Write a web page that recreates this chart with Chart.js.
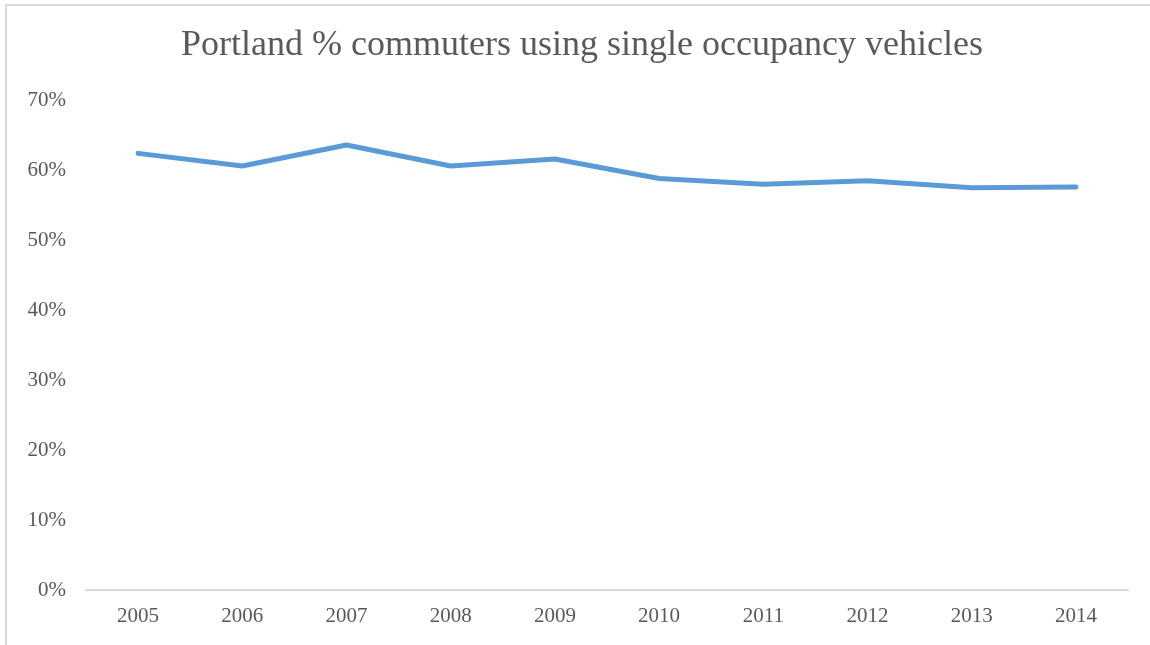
<!DOCTYPE html>
<html>
<head>
<meta charset="utf-8">
<script src="https://cdn.jsdelivr.net/npm/chart.js@4"></script>
<style>
  html, body { margin: 0; padding: 0; background: #fff; overflow: hidden; }
  #frame {
    position: absolute; left: 5px; top: 4px; width: 1200px; height: 700px;
    border-left: 2px solid #d9d9d9; border-top: 2px solid #d9d9d9;
  }
  #wrap { position: absolute; left: 0; top: 0; width: 1150px; height: 645px; }
</style>
</head>
<body>
<div id="frame"></div>
<div id="wrap"><canvas id="chart"></canvas></div>
<script>
// chart data
const years = ['2005', '2006', '2007', '2008', '2009', '2010', '2011', '2012', '2013', '2014'];
const singleOccupancy = [62.4, 60.6, 63.6, 60.6, 61.6, 58.8, 58.0, 58.5, 57.5, 57.6];
const yTicks = [0, 10, 20, 30, 40, 50, 60, 70];

const textGray = '#595959';
const serif = "'Liberation Serif', 'DejaVu Serif', serif";

new Chart(document.getElementById('chart'), {
  type: 'line',
  data: {
    labels: years,
    datasets: [{
      label: 'Single occupancy',
      data: singleOccupancy,
      borderColor: '#5b9bd5',
      borderWidth: 5,
      borderCapStyle: 'round',
      borderJoinStyle: 'round',
      pointRadius: 0,
      tension: 0,
      fill: false
    }]
  },
  options: {
    responsive: true,
    maintainAspectRatio: false,
    animation: false,
    layout: { padding: { left: 0, right: 22, top: 0, bottom: 0 } },
    plugins: {
      legend: { display: false },
      tooltip: { enabled: false },
      title: {
        display: true,
        // leading spaces push the centred title a little to the right
        text: '    Portland % commuters using single occupancy vehicles',
        color: textGray,
        font: { family: serif, size: 36, weight: 'normal', lineHeight: 1.2 },
        padding: { top: 24, bottom: 33 }
      }
    },
    scales: {
      x: {
        offset: true,
        grid: { display: false, drawTicks: false },
        border: { display: true, color: '#d9d9d9', width: 2 },
        ticks: { color: textGray, font: { family: serif, size: 21 }, padding: 14, maxRotation: 0 },
        afterFit: (scale) => { scale.height = 55; }
      },
      y: {
        min: 0,
        max: 70,
        afterBuildTicks: (scale) => { scale.ticks = yTicks.map(v => ({ value: v })); },
        grid: { display: false, drawTicks: false },
        border: { display: false },
        ticks: {
          color: textGray,
          font: { family: serif, size: 21 },
          padding: 20,
          callback: (val) => val + '%'
        },
        afterFit: (scale) => { scale.width = 86; }
      }
    }
  }
});
</script>
</body>
</html>
